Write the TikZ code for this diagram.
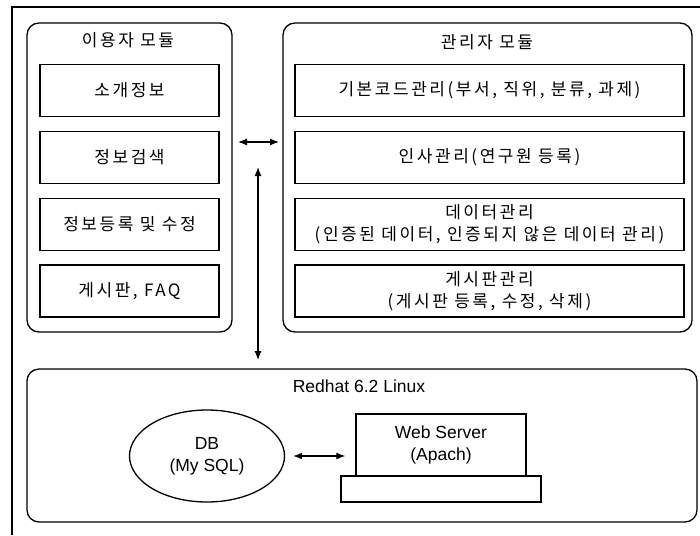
\documentclass[tikz,border=0pt]{standalone}
\usepackage{fontspec}
\setmainfont{Liberation Sans}
\newfontfamily\kr[LetterSpace=15]{Noto Sans CJK KR}
\usetikzlibrary{arrows.meta,shapes.geometric}

\tikzset{
  module/.style={draw, rounded corners=12pt, inner sep=0pt},
  item/.style={draw, inner sep=0pt, align=center, font=\kr\fontsize{17}{22}\selectfont},
  ktitle/.style={inner sep=0pt, font=\kr\fontsize{17}{22}\selectfont},
  ltext/.style={inner sep=0pt, align=center, font=\fontsize{17.5}{22}\selectfont},
  dblarrow/.style={{Latex[length=9pt,width=7pt]}-{Latex[length=9pt,width=7pt]}, line width=1.2pt}
}

\begin{document}
\begin{tikzpicture}[x=1pt, y=-1pt, line width=1.3pt]
\useasboundingbox (0,0) rectangle (700,535);

% outer frame (left and top edges)
\draw (12,535) -- (12,7) -- (700,7);

% user module
\node[module, minimum width=205pt, minimum height=309pt] (um) at (129.5,177.5) {};
\node[ktitle] (umt) at (128,40) {이용자 모듈};
\node[item, minimum width=179pt, minimum height=52pt] (u1) at (129.5,90.5) {소개정보};
\node[item, minimum width=179pt, minimum height=52pt] (u2) at (129.5,157.5) {정보검색};
\node[item, minimum width=179pt, minimum height=52pt] (u3) at (129.5,224.5) {정보등록 및 수정};
\node[item, minimum width=179pt, minimum height=52pt] (u4) at (129.5,291) {게시판, FAQ};

% admin module
\node[module, minimum width=409pt, minimum height=309pt] (am) at (487.5,177.5) {};
\node[ktitle] (amt) at (487,42) {관리자 모듈};
\node[item, minimum width=389pt, minimum height=52pt] (a1) at (489.5,90.5) {기본코드관리(부서, 직위, 분류, 과제)};
\node[item, minimum width=389pt, minimum height=52pt] (a2) at (489.5,157.5) {인사관리(연구원 등록)};
\node[item, minimum width=389pt, minimum height=52pt] (a3) at (489.5,224.5) {데이터관리\\(인증된 데이터, 인증되지 않은 데이터 관리)};
\node[item, minimum width=389pt, minimum height=52pt] (a4) at (489.5,291) {게시판관리\\(게시판 등록, 수정, 삭제)};

% server platform
\node[module, minimum width=670pt, minimum height=153pt] (rh) at (362,445.5) {};
\node[ltext] (rht) at (359,386) {Redhat 6.2 Linux};
\node[draw, ellipse, minimum width=155pt, minimum height=92pt, ltext] (db) at (207,456) {DB\\(My SQL)};
\node[draw, inner sep=0pt, minimum width=200pt, minimum height=26pt] (base) at (441,489) {};
\node[draw, ltext, minimum width=170pt, minimum height=62pt] (web) at (441,445) {Web Server\\(Apach)};

% connectors
\coordinate (h1) at (238,142);
\coordinate (h2) at (279,142);
\draw[dblarrow] (h1) -- (h2);
\coordinate (v1) at (258,167);
\coordinate (v2) at (258,360);
\draw[dblarrow] (v1) -- (v2);
\draw[dblarrow, shorten <=8pt, shorten >=10pt] (db.east) -- (db.east -| web.west);
\end{tikzpicture}
\end{document}
